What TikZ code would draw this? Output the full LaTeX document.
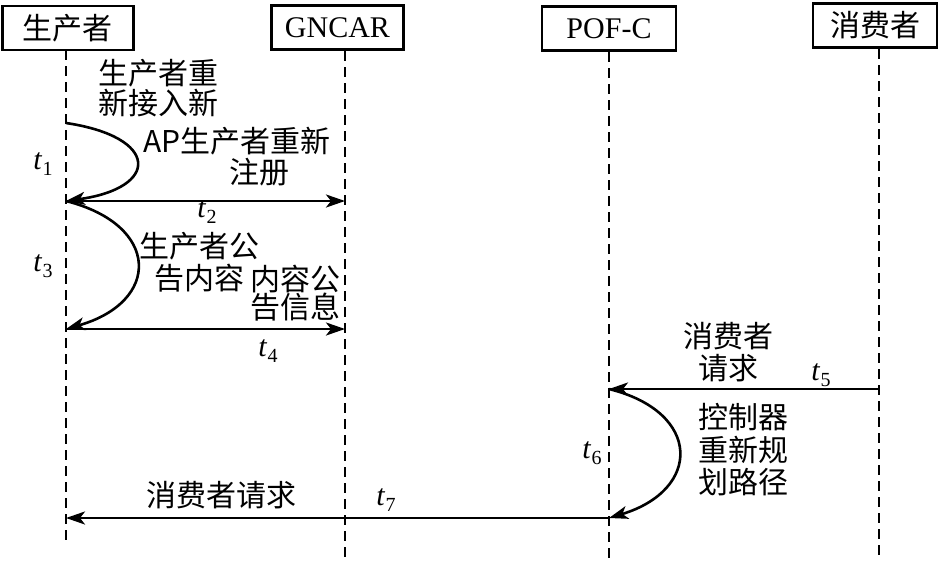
\documentclass[tikz,border=0pt]{standalone}
\usepackage{fontspec}
\setmainfont{Liberation Serif}
\newfontfamily\cjk{Noto Sans CJK SC}
\usetikzlibrary{arrows.meta}
\newcommand\tsub[2]{\textit{#1}\kern0.5pt\raisebox{-6pt}{\fontsize{20}{20}\selectfont #2}}
\begin{document}
\begin{tikzpicture}[x=1pt,y=-1pt,
  every node/.style={inner sep=0pt},
  lab/.style={align=center, font=\cjk\fontsize{30}{31}\selectfont},
  actor/.style={draw, line width=2.2pt, minimum height=44pt, inner sep=0pt, font=\fontsize{30}{32}\selectfont},
  life/.style={line width=2pt, dash pattern=on 10pt off 6pt},
  msg/.style={line width=2.6pt, -{Stealth[length=19pt,width=13pt,inset=5pt]}},
  tlab/.style={font=\fontsize{30}{32}\selectfont}]
\useasboundingbox (0,0) rectangle (945,566);

% actors
\node[actor, minimum width=131pt] (prod) at (68,28) {\cjk 生产者};
\node[actor, minimum width=132pt] (gn) at (337.5,27.5) {GNCAR};
\node[actor, minimum width=134pt] (pof) at (609,28.5) {POF-C};
\node[actor, minimum width=124pt] (cons) at (875,25.5) {\cjk 消费者};

% lifelines
\coordinate (pT) at (66,50); \coordinate (pB) at (66,545);
\coordinate (gT) at (345,51); \coordinate (gB) at (345,557);
\coordinate (fT) at (609,52); \coordinate (fB) at (609,560);
\coordinate (cT) at (879,49); \coordinate (cB) at (879,555);
\draw[life] (pT) -- (pB);
\draw[life] (gT) -- (gB);
\draw[life] (fT) -- (fB);
\draw[life] (cT) -- (cB);

% message points
\coordinate (p1) at (66,123);
\coordinate (p2) at (66,201);
\coordinate (g2) at (345,201);
\coordinate (p3) at (66,329);
\coordinate (g3) at (345,329);
\coordinate (c5) at (879,389);
\coordinate (f5) at (609,389);
\coordinate (f7) at (609,518);
\coordinate (p7) at (66,518);

% t1 self loop
\draw[msg] (p1) .. controls (160,137) and (160,188) .. (p2);
\draw[msg] (p2) -- (g2);
% t3 self loop
\draw[msg] (p2) .. controls (161,225) and (161,302) .. (p3);
\draw[msg] (p3) -- (g3);
% t5
\draw[msg] (c5) -- (f5);
% t6
\draw[msg] (f5) .. controls (702,412) and (702,490) .. (f7);
% t7
\draw[msg] (f7) -- (p7);

% labels
\node[lab, font=\cjk\fontsize{30}{29.5}\selectfont] (l1) at (158,88) {生产者重\\新接入新};
\node[lab] (l2) at (237,141) {AP生产者重新};
\node[lab] (l3) at (259,172) {注册};
\node[lab, font=\cjk\fontsize{30}{32}\selectfont] (l4) at (199,262) {生产者公\\告内容};
\node[lab, align=right, anchor=east, font=\cjk\fontsize{30}{28}\selectfont] (l5) at (341,293) {内容公\\告信息};
\node[lab, font=\cjk\fontsize{30}{31.5}\selectfont] (l6) at (728,352) {消费者\\请求};
\node[lab, font=\cjk\fontsize{30}{32.5}\selectfont] (l7) at (743,450) {控制器\\重新规\\划路径};
\node[lab] (l8) at (221,495) {消费者请求};

\node[tlab] (t1) at (43,164) {\tsub{t}{1}};
\node[tlab] (t2) at (207,212) {\tsub{t}{2}};
\node[tlab] (t3) at (43,266) {\tsub{t}{3}};
\node[tlab] (t4) at (268,351) {\tsub{t}{4}};
\node[tlab] (t5) at (821,375) {\tsub{t}{5}};
\node[tlab] (t6) at (592,453) {\tsub{t}{6}};
\node[tlab] (t7) at (386,500) {\tsub{t}{7}};
\end{tikzpicture}
\end{document}
